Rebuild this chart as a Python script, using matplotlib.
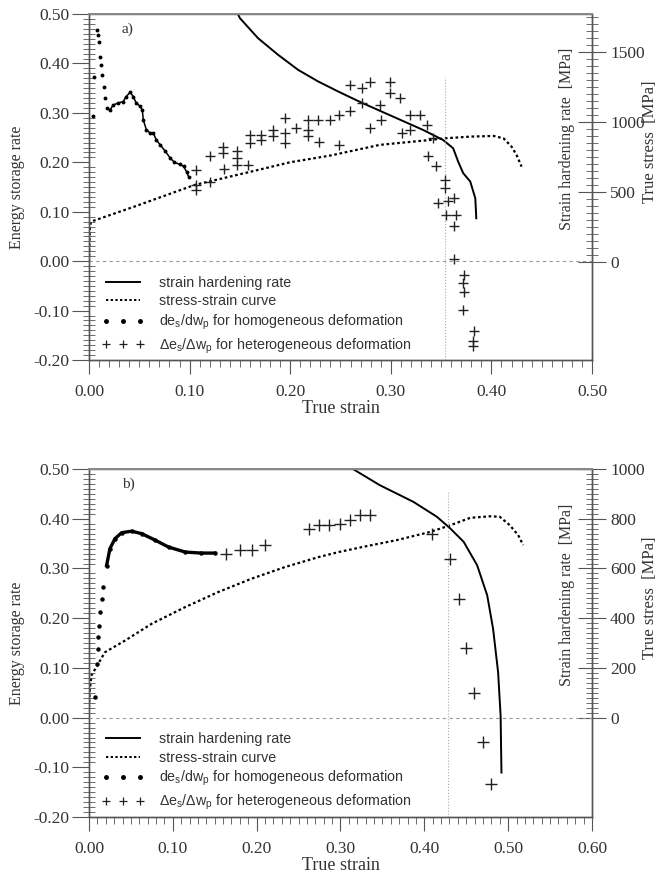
import matplotlib.pyplot as plt
from matplotlib.lines import Line2D
from matplotlib.ticker import MultipleLocator, FixedLocator

plt.rcParams['font.family'] = ['Liberation Serif', 'DejaVu Serif']
plt.rcParams['mathtext.fontset'] = 'custom'
plt.rcParams['mathtext.rm'] = 'Liberation Sans'
plt.rcParams['mathtext.it'] = 'Liberation Sans:italic'

# ---------------- panel a) ----------------
a_strain_hom = [0.0043, 0.005, 0.008, 0.0085, 0.0099, 0.011, 0.0116, 0.013, 0.015, 0.016,
                0.018, 0.021, 0.024, 0.029, 0.034, 0.037, 0.041, 0.044, 0.047, 0.051,
                0.053, 0.054, 0.057, 0.061, 0.064, 0.067, 0.071, 0.076, 0.081, 0.085,
                0.090, 0.094, 0.097, 0.099]
a_esr_hom = [0.293, 0.373, 0.468, 0.457, 0.444, 0.414, 0.397, 0.377, 0.353, 0.330,
             0.309, 0.306, 0.316, 0.320, 0.323, 0.333, 0.342, 0.333, 0.320, 0.313,
             0.306, 0.286, 0.266, 0.259, 0.259, 0.245, 0.235, 0.222, 0.208, 0.200,
             0.196, 0.192, 0.181, 0.171]

a_strain_het = [0.106, 0.106, 0.106, 0.120, 0.120, 0.133, 0.133, 0.134, 0.147, 0.147,
                0.147, 0.158, 0.160, 0.160, 0.171, 0.171, 0.183, 0.183, 0.195, 0.195,
                0.195, 0.206, 0.218, 0.218, 0.218, 0.228, 0.229, 0.240, 0.249, 0.249,
                0.259, 0.259, 0.271, 0.271, 0.279, 0.279, 0.289, 0.290, 0.299, 0.299,
                0.309, 0.311, 0.319, 0.319, 0.329, 0.336, 0.337, 0.342, 0.345, 0.354,
                0.354, 0.347, 0.357, 0.363, 0.355, 0.365, 0.363, 0.363, 0.373, 0.372,
                0.373, 0.372, 0.383, 0.382, 0.382]
a_esr_het = [0.185, 0.155, 0.143, 0.212, 0.161, 0.232, 0.219, 0.187, 0.222, 0.208,
             0.195, 0.195, 0.256, 0.239, 0.256, 0.246, 0.266, 0.253, 0.289, 0.259,
             0.239, 0.269, 0.286, 0.266, 0.253, 0.286, 0.242, 0.286, 0.296, 0.235,
             0.357, 0.303, 0.350, 0.320, 0.363, 0.269, 0.316, 0.286, 0.363, 0.340,
             0.330, 0.259, 0.296, 0.266, 0.296, 0.276, 0.212, 0.249, 0.192, 0.165,
             0.148, 0.118, 0.121, 0.128, 0.094, 0.094, 0.072, 0.005, -0.027, -0.044,
             -0.062, -0.098, -0.142, -0.162, -0.172]

a_strain_ss = [0.0, 0.0005, 0.001, 0.002, 0.045, 0.105, 0.161, 0.200, 0.240, 0.289,
               0.339, 0.354, 0.379, 0.402, 0.412, 0.420, 0.425, 0.430]
a_stress = [0, 150, 250, 288, 395, 550, 645, 712, 760, 836,
            871, 883, 895, 900, 883, 824, 764, 681]

a_strain_hr = [0.146, 0.150, 0.168, 0.188, 0.208, 0.228, 0.240, 0.248, 0.272, 0.306,
               0.332, 0.352, 0.362, 0.367, 0.372, 0.379, 0.384, 0.385]
a_hard = [1800, 1741, 1598, 1479, 1371, 1288, 1245, 1216, 1134, 1026,
          943, 871, 812, 716, 634, 574, 455, 312]

# ---------------- panel b) ----------------
b_strain_hom = [0.0072, 0.0092, 0.0104, 0.011, 0.012, 0.013, 0.015, 0.017, 0.021, 0.025,
                0.031, 0.039, 0.051, 0.063, 0.079, 0.095, 0.115, 0.134, 0.150]
b_esr_hom = [0.041, 0.108, 0.139, 0.162, 0.185, 0.212, 0.239, 0.263, 0.306, 0.340,
             0.360, 0.372, 0.375, 0.370, 0.357, 0.343, 0.333, 0.331, 0.331]

b_strain_het = [0.164, 0.180, 0.194, 0.210, 0.262, 0.274, 0.286, 0.2995, 0.311, 0.323,
                0.335, 0.409, 0.431, 0.441, 0.450, 0.459, 0.470, 0.479]
b_esr_het = [0.330, 0.337, 0.337, 0.348, 0.380, 0.387, 0.387, 0.390, 0.397, 0.407,
             0.407, 0.370, 0.320, 0.239, 0.140, 0.049, -0.050, -0.134]

b_strain_ss = [0.0, 0.001, 0.003, 0.019, 0.043, 0.075, 0.115, 0.154, 0.194, 0.234,
               0.274, 0.299, 0.327, 0.367, 0.407, 0.431, 0.455, 0.479, 0.490, 0.502,
               0.512, 0.518]
b_stress = [40, 110, 170, 263, 310, 378, 445, 505, 559, 606,
            646, 667, 687, 714, 747, 774, 804, 810, 808, 774,
            734, 694]

b_strain_hr = [0.305, 0.3135, 0.347, 0.387, 0.415, 0.431, 0.447, 0.463, 0.475, 0.482,
               0.488, 0.491, 0.492]
b_hard = [1040, 1003, 935, 868, 808, 761, 707, 613, 492, 358,
          183, 8, -221]

labels = ["strain hardening rate", "stress-strain curve",
          r"de$_\mathrm{s}$/dw$_\mathrm{p}$ for homogeneous deformation",
          "\u0394e$_\\mathrm{s}$/\u0394w$_\\mathrm{p}$ for heterogeneous deformation"]

grey = '#555555'
txt = '#333333'


def draw_panel(ax, tag, hom, het, ss, hr, xmax, rlim, rmajor, rminor, vline, joint, plus_ms, dot_ms, hom_lw):
    ax2 = ax.twinx()
    ax.set_zorder(ax2.get_zorder() + 1)
    ax.patch.set_visible(False)

    ax.axhline(0, color='#999999', lw=0.8, ls=(0, (3, 3)), zorder=1)
    ax.vlines(vline[0], -0.2, vline[1], color='#aaaaaa', lw=0.8, ls=':', zorder=1)

    # right axis series
    ax2.plot(hr[0], hr[1], color='black', lw=1.4)
    ax2.plot(ss[0], ss[1], color='black', lw=1.6, ls=(0, (1.2, 1.2)))

    # energy storage rates
    ax.plot(hom[0][joint:], hom[1][joint:], color='black', lw=hom_lw, zorder=3)
    ax.plot(hom[0], hom[1], ls='none', marker='o', ms=dot_ms, color='black', zorder=3)
    ax.plot(het[0], het[1], ls='none', marker='+', ms=plus_ms, mew=1.0,
            color='#222222', zorder=3)

    ax.set_xlim(0, xmax)
    ax.set_ylim(-0.2, 0.5)
    ax2.set_ylim(*rlim)

    ax.xaxis.set_major_locator(MultipleLocator(0.1))
    ax.xaxis.set_minor_locator(MultipleLocator(0.01))
    ax.yaxis.set_major_locator(MultipleLocator(0.1))
    ax.yaxis.set_minor_locator(MultipleLocator(0.01))
    ax.xaxis.set_major_formatter(lambda v, p: f"{v:.2f}")
    ax.yaxis.set_major_formatter(lambda v, p: f"{v:.2f}")

    ax2.yaxis.set_major_locator(FixedLocator(rmajor))
    ax2.yaxis.set_minor_locator(FixedLocator(rminor))

    ax.tick_params(axis='y', which='major', direction='out', length=12, width=0.8,
                   colors=grey, labelcolor=txt, labelsize=12.5, pad=2)
    ax.tick_params(axis='y', which='minor', direction='inout', length=8, width=0.6, colors=grey)
    ax.tick_params(axis='x', which='major', direction='out', length=10, width=0.8,
                   colors=grey, labelcolor=txt, labelsize=12.5, pad=7)
    ax.tick_params(axis='x', which='minor', direction='out', length=5, width=0.6, colors=grey)
    ax2.tick_params(axis='y', which='major', direction='inout', length=20, width=0.8,
                    colors=grey, labelcolor=txt, labelsize=12.5, pad=3)
    ax2.tick_params(axis='y', which='minor', direction='inout', length=9, width=0.6, colors=grey)

    for a in (ax, ax2):
        for s in a.spines.values():
            s.set_color(grey)
            s.set_linewidth(1.0)
    ax.spines['top'].set_color('#888888')
    ax.spines['top'].set_linewidth(1.4)

    ax.set_xlabel('True strain', fontsize=13, color=txt)
    ax.xaxis.set_label_coords(0.5, -0.115)
    ax.set_ylabel('Energy storage rate', fontsize=11.5, color=txt)
    ax.yaxis.set_label_coords(-0.128, 0.5)

    ax.text(0.065, 0.945, tag, transform=ax.transAxes, fontsize=11, color=txt)
    ax.text(0.95, 0.64, 'Strain hardening rate  [MPa]', transform=ax.transAxes,
            rotation=90, ha='center', va='center', fontsize=11.5, color=txt)
    ax.text(1.116, 0.63, 'True stress  [MPa]', transform=ax.transAxes,
            rotation=90, ha='center', va='center', fontsize=12, color=txt)

    handles = [Line2D([], [], color='black', lw=1.4),
               Line2D([], [], color='black', lw=1.4, ls=(0, (1.2, 1.2))),
               Line2D([], [], ls='none', marker='o', ms=2.5, color='black'),
               Line2D([], [], ls='none', marker='+', ms=5.5, mew=0.9, color='#222222')]
    ax.legend(handles, labels, loc='upper left',
              bbox_to_anchor=(0.0, 0.28), frameon=False, numpoints=3,
              handlelength=3.0, handletextpad=1.0, labelspacing=0.3,
              prop={'family': 'Liberation Sans', 'size': 10.3}, labelcolor=txt)


fig = plt.figure(figsize=(6.63, 8.73), dpi=100)
ax_a = fig.add_axes([0.1342, 0.5876, 0.7587, 0.3963])
ax_b = fig.add_axes([0.1342, 0.0641, 0.7587, 0.3986])

draw_panel(ax_a, 'a)', (a_strain_hom, a_esr_hom), (a_strain_het, a_esr_het),
           (a_strain_ss, a_stress), (a_strain_hr, a_hard), 0.5, (-700, 1770),
           [0, 500, 1000, 1500], list(range(0, 1751, 50)), (0.354, 0.373), 10,
           6.5, 1.8, 1.1)
draw_panel(ax_b, 'b)', (b_strain_hom, b_esr_hom), (b_strain_het, b_esr_het),
           (b_strain_ss, b_stress), (b_strain_hr, b_hard), 0.6, (-400, 1000),
           [0, 200, 400, 600, 800, 1000], list(range(0, 1001, 20)), (0.428, 0.454), 8,
           9, 2.2, 2.4)

fig.savefig('out.png', dpi=100)
